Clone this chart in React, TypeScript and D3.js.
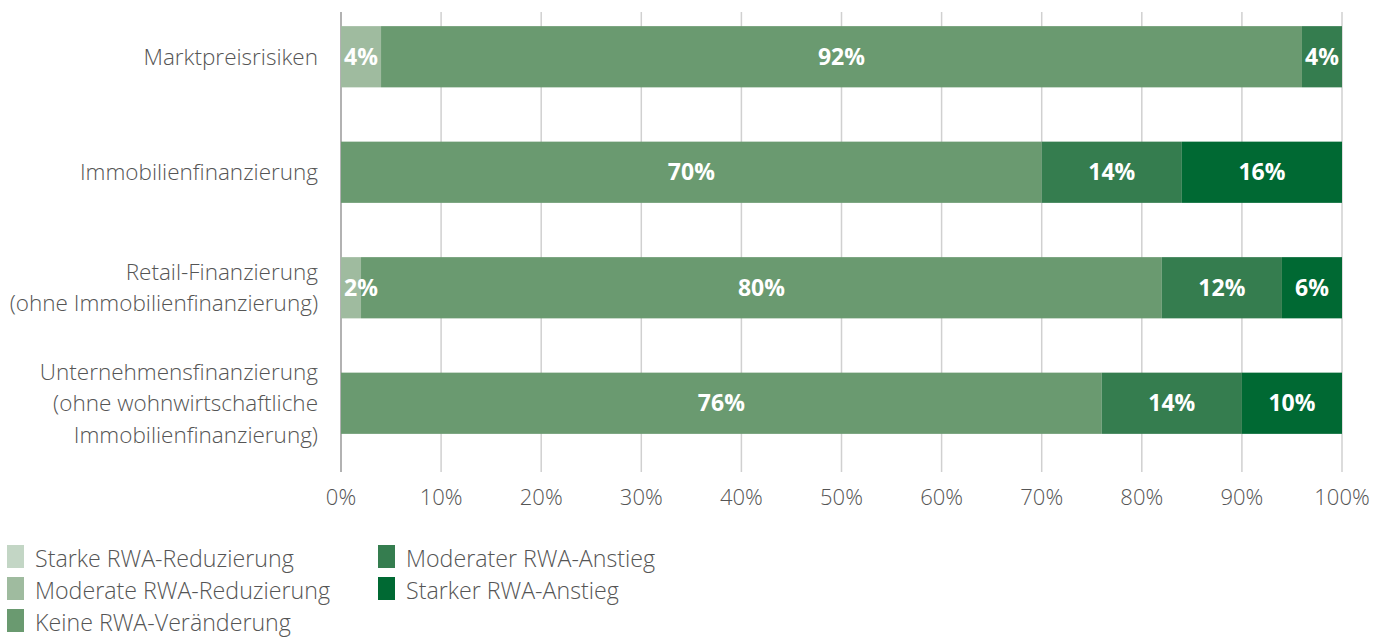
import React from "react";
import * as d3 from "d3";

const categories: string[][] = [
  ["Marktpreisrisiken"],
  ["Immobilienfinanzierung"],
  ["Retail-Finanzierung", "(ohne Immobilienfinanzierung)"],
  ["Unternehmensfinanzierung", "(ohne wohnwirtschaftliche", "Immobilienfinanzierung)"],
];

const seriesNames = [
  "Starke RWA-Reduzierung",
  "Moderate RWA-Reduzierung",
  "Keine RWA-Veränderung",
  "Moderater RWA-Anstieg",
  "Starker RWA-Anstieg",
];

const seriesColors = ["#c3d6c5", "#9fbb9f", "#6a9a70", "#357d4f", "#006933"];

const starkeReduzierung = [0, 0, 0, 0];
const moderateReduzierung = [4, 0, 2, 0];
const keineVeraenderung = [92, 70, 80, 76];
const moderaterAnstieg = [4, 14, 12, 14];
const starkerAnstieg = [0, 16, 6, 10];

const xTicks = [0, 10, 20, 30, 40, 50, 60, 70, 80, 90, 100];

const FONT = "'Open Sans', sans-serif";

export default function App() {
  const width = 1386;
  const height = 637;
  const x = d3.scaleLinear().domain([0, 100]).range([341, 1342]);
  const y = d3
    .scaleBand<number>()
    .domain(d3.range(categories.length))
    .range([-1, 461])
    .paddingInner(0.47)
    .paddingOuter(0.235);

  const series = [
    starkeReduzierung,
    moderateReduzierung,
    keineVeraenderung,
    moderaterAnstieg,
    starkerAnstieg,
  ];

  const rows = categories.map((_, i) => {
    const obj: Record<string, number> = {};
    seriesNames.forEach((n, s) => (obj[n] = series[s][i]));
    return obj;
  });
  const stacked = d3.stack<Record<string, number>>().keys(seriesNames)(rows);

  const legendItems = [
    { i: 0, x: 7, y: 545 },
    { i: 1, x: 7, y: 577 },
    { i: 2, x: 7, y: 609 },
    { i: 3, x: 378, y: 545 },
    { i: 4, x: 378, y: 577 },
  ];

  return (
    <svg
      width={width}
      height={height}
      style={{ position: "absolute", left: 0, top: 0, fontFamily: FONT }}
    >
      {xTicks.map((t) => (
        <line
          key={"g" + t}
          x1={x(t)}
          x2={x(t)}
          y1={12}
          y2={472}
          stroke={t === 0 ? "#999" : "#d0d0d0"}
          strokeWidth={1.5}
        />
      ))}
      {stacked.map((layer, s) =>
        layer.map((d, i) => {
          const w = x(d[1]) - x(d[0]);
          if (w <= 0) return null;
          return (
            <rect
              key={`r${s}-${i}`}
              x={x(d[0])}
              y={y(i)}
              width={w}
              height={y.bandwidth()}
              fill={seriesColors[s]}
            />
          );
        })
      )}
      {stacked.map((layer, s) =>
        layer.map((d, i) => {
          const v = d[1] - d[0];
          if (v <= 0) return null;
          const w = x(d[1]) - x(d[0]);
          const small = w < 36;
          const tx = small ? x(d[0]) + 3 : (x(d[0]) + x(d[1])) / 2;
          return (
            <text
              key={`t${s}-${i}`}
              x={tx}
              y={(y(i) as number) + y.bandwidth() / 2}
              dy="0.35em"
              textAnchor={small ? "start" : "middle"}
              fill="#fff"
              fontWeight={700}
              fontSize={23}
            >
              {v}%
            </text>
          );
        })
      )}
      {categories.map((lines, i) => {
        const cy = (y(i) as number) + y.bandwidth() / 2;
        const lh = 31.5;
        const start = cy - ((lines.length - 1) * lh) / 2;
        return (
          <text
            key={"c" + i}
            textAnchor="end"
            fill="#555"
            fontSize={22.5}
            fontWeight={300}
          >
            {lines.map((l, k) => (
              <tspan key={k} x={318} y={start + k * lh} dy="0.35em">
                {l}
              </tspan>
            ))}
          </text>
        );
      })}
      {xTicks.map((t) => (
        <text
          key={"x" + t}
          x={x(t)}
          y={497}
          dy="0.35em"
          textAnchor="middle"
          fill="#555"
          fontSize={22}
          fontWeight={300}
        >
          {t}%
        </text>
      ))}
      {legendItems.map((li) => (
        <g key={"l" + li.i}>
          <rect x={li.x} y={li.y} width={17} height={23} fill={seriesColors[li.i]} />
          <text
            x={li.x + 28}
            y={li.y + 22}
            fill="#555"
            fontSize={23.2}
            fontWeight={300}
          >
            {seriesNames[li.i]}
          </text>
        </g>
      ))}
    </svg>
  );
}
